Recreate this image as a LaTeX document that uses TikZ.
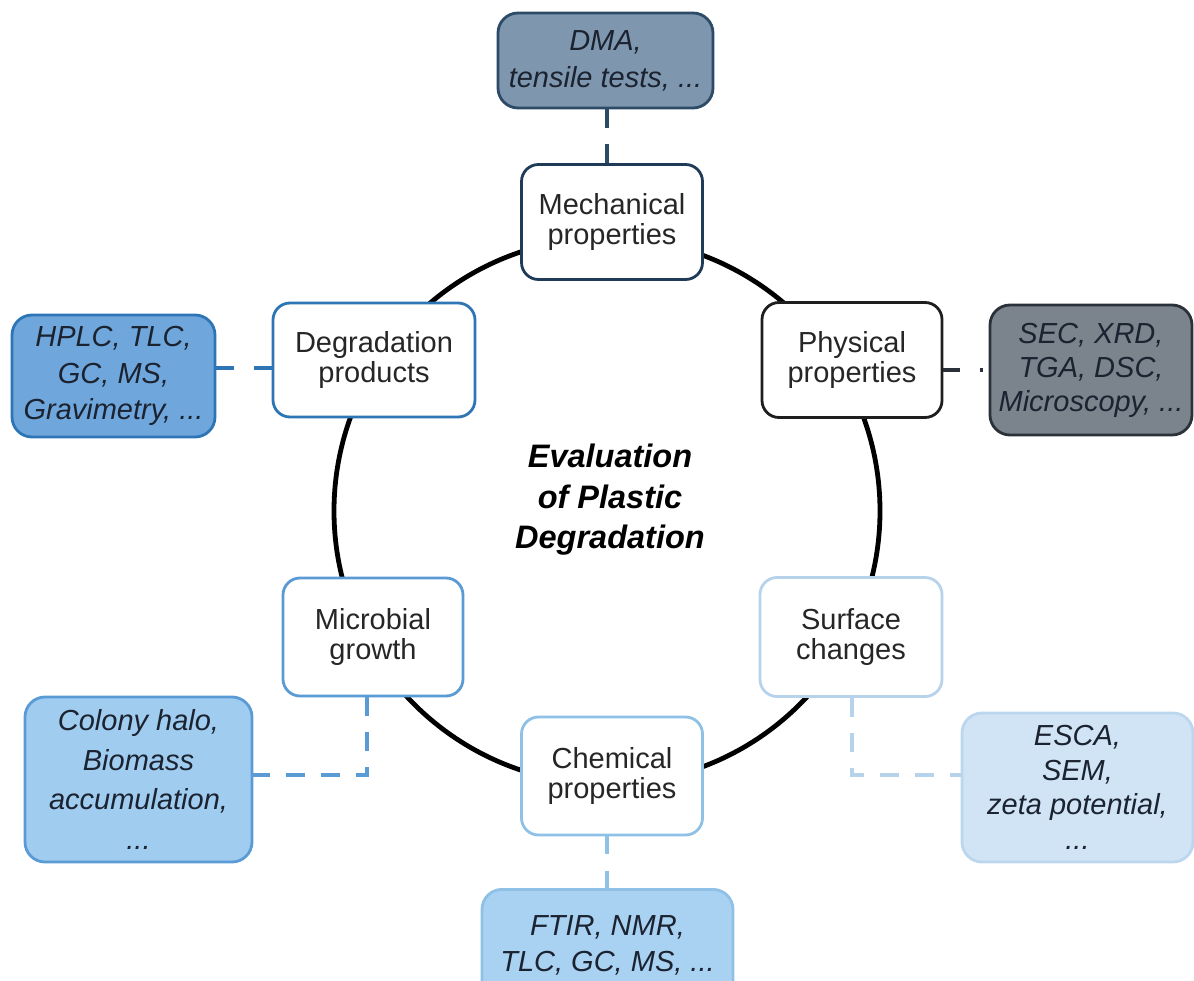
\documentclass[tikz,border=0pt]{standalone}
\usepackage{fontspec}
\setmainfont{Liberation Sans}
\definecolor{txt}{HTML}{262626}
\definecolor{mtxt}{HTML}{1B2230}
\definecolor{mechB}{HTML}{1F3B57}
\definecolor{dmaF}{HTML}{7F97AE}
\definecolor{dmaB}{HTML}{2D4A66}
\definecolor{degB}{HTML}{2E75B6}
\definecolor{hplcF}{HTML}{6FA7DC}
\definecolor{hplcB}{HTML}{2E75B6}
\definecolor{physB}{HTML}{1E1E1E}
\definecolor{secF}{HTML}{7B848D}
\definecolor{secB}{HTML}{2A3138}
\definecolor{micB}{HTML}{5B9BD5}
\definecolor{colF}{HTML}{A0CCF0}
\definecolor{colB}{HTML}{5B9BD5}
\definecolor{surB}{HTML}{B7D3EC}
\definecolor{escF}{HTML}{D0E4F6}
\definecolor{escB}{HTML}{BCD6EE}
\definecolor{chemB}{HTML}{8FC0E6}
\definecolor{ftF}{HTML}{A9D1F2}
\definecolor{ftB}{HTML}{8FC0E6}
\tikzset{
  mainbox/.style={draw, line width=2.8pt, rounded corners=17pt, fill=white,
    align=center, text=txt, inner sep=0pt,
    font=\fontsize{29}{30}\selectfont},
  methbox/.style={draw, line width=2.8pt, rounded corners=20pt,
    align=center, text=mtxt, inner sep=0pt},
  conn/.style={line width=3.5pt, dash pattern=on 19pt off 16pt},
}
\begin{document}
\begin{tikzpicture}[x=1pt,y=-1pt]
\useasboundingbox (0,0) rectangle (1194,981);
% ring
\draw[line width=4.8pt] (607,511) circle (273);
% main nodes
\node[mainbox, draw=mechB, minimum width=181pt, minimum height=115pt] (mech) at (612,222) {Mechanical\\properties};
\node[mainbox, draw=degB, minimum width=202pt, minimum height=114pt] (deg) at (374,360) {Degradation\\products};
\node[mainbox, draw=physB, minimum width=180pt, minimum height=115pt] (phys) at (852,360) {Physical\\properties};
\node[mainbox, draw=micB, minimum width=180pt, minimum height=118pt] (mic) at (373,637) {Microbial\\growth};
\node[mainbox, draw=surB, minimum width=182pt, minimum height=119pt] (sur) at (851,637) {Surface\\changes};
\node[mainbox, draw=chemB, minimum width=181pt, minimum height=118pt] (chem) at (612,776) {Chemical\\properties};
% centre title
\node[align=center, font=\fontsize{32.5}{40.5}\selectfont\bfseries\itshape] (title) at (610,500) {Evaluation\\of Plastic\\Degradation};
% method boxes
\node[methbox, fill=dmaF, draw=dmaB, minimum width=215pt, minimum height=95pt,
  font=\fontsize{29}{37}\selectfont\itshape] (dma) at (605.5,60.5) {DMA,\\tensile tests, ...};
\node[methbox, fill=hplcF, draw=hplcB, minimum width=203pt, minimum height=122pt,
  font=\fontsize{29}{36.5}\selectfont\itshape] (hplc) at (113.5,376) {HPLC, TLC,\\GC, MS,\\Gravimetry, ...};
\node[methbox, fill=secF, draw=secB, minimum width=202pt, minimum height=130pt,
  font=\fontsize{29}{34}\selectfont\itshape] (sec) at (1091,370) {SEC, XRD,\\TGA, DSC,\\Microscopy, ...};
\node[methbox, fill=colF, draw=colB, minimum width=227pt, minimum height=165pt,
  font=\fontsize{29}{39.5}\selectfont\itshape] (col) at (138.5,779.5) {Colony halo,\\Biomass\\accumulation,\\...};
\node[methbox, fill=escF, draw=escB, minimum width=231pt, minimum height=149pt,
  font=\fontsize{29}{34.5}\selectfont\itshape] (esc) at (1077.5,787.5) {ESCA,\\SEM,\\zeta potential,\\...};
\node[methbox, fill=ftF, draw=ftB, minimum width=251pt, minimum height=150pt,
  font=\fontsize{29}{36}\selectfont\itshape, anchor=north] (ft) at (607.5,888) {};
\node[font=\fontsize{29}{36}\selectfont\itshape, text=mtxt, align=center] (fttext) at (607.5,945) {FTIR, NMR,\\TLC, GC, MS, ...};
% connectors
\coordinate (yh) at (0,368);
\coordinate (yp) at (0,370);
\coordinate (ym) at (0,775);
\coordinate (xm) at (367,0);
\coordinate (xs) at (852,0);
\coordinate (xv) at (607,0);
\draw[conn, draw=dmaB] (dma.south -| xv) -- (mech.north -| xv);
\draw[conn, draw=hplcB, dash pattern=on 18pt off 20pt] (hplc.east |- yh) -- (deg.west |- yh);
\draw[conn, draw=secB, dash pattern=on 17pt off 20pt on 3pt off 20pt] (phys.east |- yp) -- (sec.west |- yp);
\draw[conn, draw=micB] (mic.south -| xm) -- (xm |- ym) -- (col.east |- ym);
\draw[conn, draw=surB] (sur.south -| xs) -- (xs |- ym) -- (esc.west |- ym);
\draw[conn, draw=ftB, dash pattern=on 18pt off 17pt] (chem.south -| xv) -- (ft.north -| xv);
\end{tikzpicture}
\end{document}
